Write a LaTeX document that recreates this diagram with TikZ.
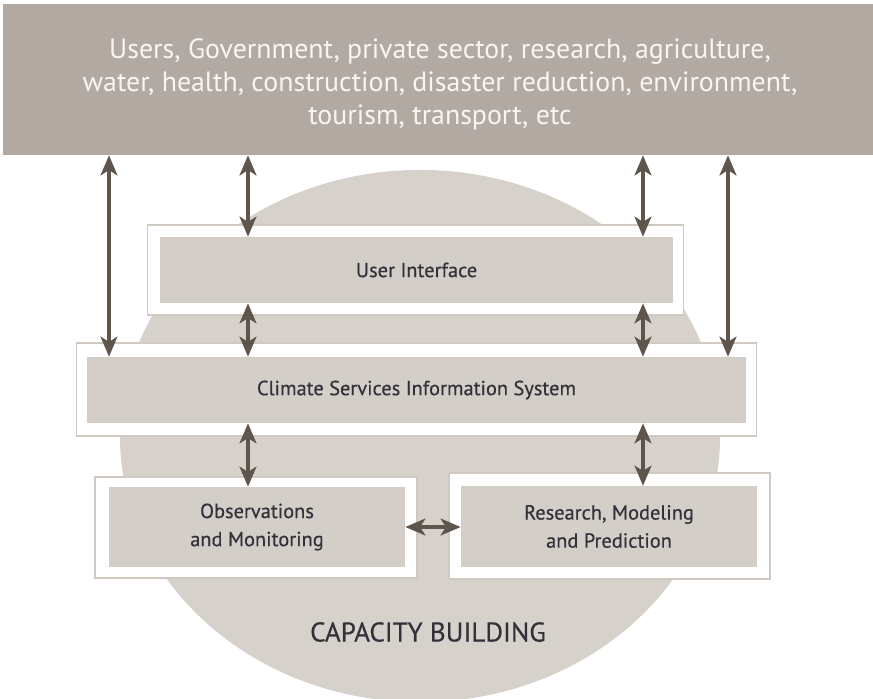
\documentclass[tikz,border=0pt]{standalone}
\usepackage{fontspec}
\setmainfont{PT Sans}
\usepackage{tikz}
\usetikzlibrary{arrows.meta, positioning, calc, shapes.geometric}

\definecolor{bandgray}{HTML}{B2AAA2}
\definecolor{discgray}{HTML}{D6D1CB}
\definecolor{boxgray}{HTML}{D3CEC8}
\definecolor{framegray}{HTML}{CFC9C2}
\definecolor{arrowbrown}{HTML}{5E564C}
\definecolor{inktext}{HTML}{33303A}
\definecolor{bandtext}{HTML}{F8F5F1}

\begin{document}
\begin{tikzpicture}[x=0.025cm, y=-0.025cm,
    band/.style={rectangle, fill=bandgray, inner sep=0pt, minimum width=21.75cm, minimum height=3.775cm},
    bandlabel/.style={text=bandtext, align=center, inner sep=0pt, font=\fontsize{19.8}{23.5}\selectfont},
    disc/.style={ellipse, fill=discgray, inner sep=0pt, minimum width=15cm, minimum height=13.3cm},
    frame/.style={rectangle, draw=framegray, line width=0.8pt, fill=white, inner sep=0pt},
    block/.style={rectangle, fill=boxgray, inner sep=0pt, align=center, text=inktext, font=\fontsize{14.5}{20}\selectfont\addfontfeature{FakeBold=0.4}},
    link/.style={{Stealth[length=0.5cm, width=0.42cm, inset=0.13cm]}-{Stealth[length=0.5cm, width=0.42cm, inset=0.13cm]}, line width=0.12cm, draw=arrowbrown}
]
    \useasboundingbox (0,0) rectangle (873,698);

    % Capacity building disc
    \node[disc] (disc) at (420,436) {};
    \node[text=inktext, font=\fontsize{19.3}{22}\selectfont\addfontfeature{FakeBold=0.3}] (capacity) at (428,632) {CAPACITY BUILDING};

    % Users
    \node[band] (users) at (438,79.5) {};
    \node[bandlabel] (users_label) at (440,84) {Users, Government, private sector, research, agriculture,\\water, health, construction, disaster reduction, environment,\\tourism, transport, etc};

    % User interface
    \node[frame, minimum width=13.375cm, minimum height=2.25cm] (ui_frame) at (415.5,270) {};
    \node[block, minimum width=12.825cm, minimum height=1.65cm] (ui) at (416.5,270) {User Interface};

    % Climate services information system
    \node[frame, minimum width=16.975cm, minimum height=2.325cm] (csis_frame) at (416.5,389.5) {};
    \node[block, minimum width=16.475cm, minimum height=1.65cm] (csis) at (416.5,390) {Climate Services Information System};

    % Observations / research
    \node[frame, minimum width=8.05cm, minimum height=2.525cm] (obs_frame) at (256,527.5) {};
    \node[block, minimum width=7.4cm, minimum height=2cm] (obs) at (257,527) {Observations\\and Monitoring};
    \node[frame, minimum width=8.025cm, minimum height=2.65cm] (res_frame) at (609.5,526) {};
    \node[block, minimum width=7.4cm, minimum height=2.025cm] (res) at (609,526.5) {Research, Modeling\\and Prediction};

    % Arrow columns
    \coordinate (colA) at (109,0);
    \coordinate (colB) at (248,0);
    \coordinate (colC) at (643,0);
    \coordinate (colD) at (728,0);

    % Connect components
    \draw[link] (users.south -| colA) -- (csis.north -| colA);
    \draw[link] (users.south -| colB) -- (ui.north -| colB);
    \draw[link] (users.south -| colC) -- (ui.north -| colC);
    \draw[link] (users.south -| colD) -- (csis.north -| colD);
    \draw[link] (ui.south -| colB) -- (csis.north -| colB);
    \draw[link] (ui.south -| colC) -- (csis.north -| colC);
    \draw[link] (csis.south -| colB) -- (obs.north -| colB);
    \draw[link] (csis.south -| colC) -- (res.north -| colC);
    \draw[link] (obs.east) -- (obs.east -| res.west);

\end{tikzpicture}
\end{document}
